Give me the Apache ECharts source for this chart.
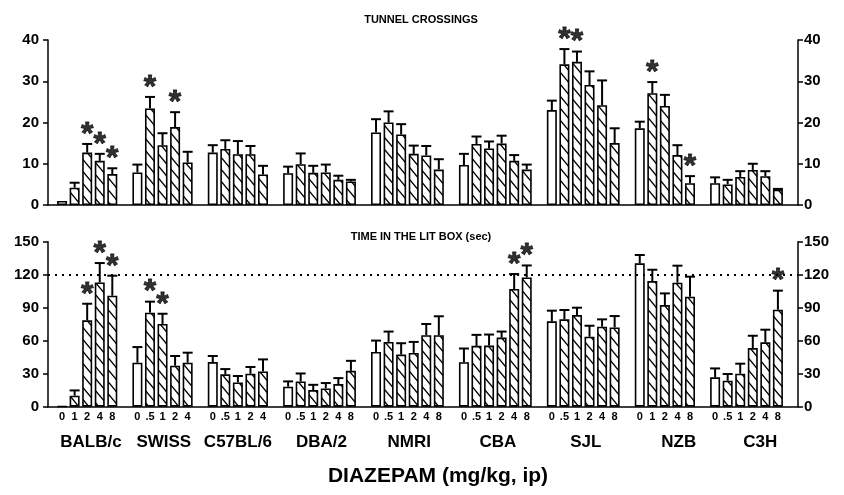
<!DOCTYPE html>
<html><head><meta charset="utf-8">
<script src="https://cdn.jsdelivr.net/npm/echarts@6/dist/echarts.min.js"></script>
<style>html,body{margin:0;padding:0;background:#fff}#c{width:844px;height:495px}</style>
</head><body><div id="c"></div>
<script>
// ---------------- DATA ----------------
const strains = ['BALB/c','SWISS','C57BL/6','DBA/2','NMRI','CBA','SJL','NZB','C3H'];
const doses = [
  ['0','1','2','4','8'],
  ['0','.5','1','2','4'],
  ['0','.5','1','2','4'],
  ['0','.5','1','2','4','8'],
  ['0','.5','1','2','4','8'],
  ['0','.5','1','2','4','8'],
  ['0','.5','1','2','4','8'],
  ['0','1','2','4','8'],
  ['0','.5','1','2','4','8']
];
// Tunnel crossings: mean, SEM, significance (1 = *)
const tunnelMean = [
  [1.0,4.2,12.7,10.7,7.5],
  [7.9,23.4,14.5,18.9,10.3],
  [12.7,13.6,12.3,12.3,7.4],
  [7.7,9.9,7.8,7.9,6.1,5.7],
  [17.6,20.0,17.1,12.4,12.0,8.6],
  [9.7,14.8,13.7,14.9,10.7,8.6],
  [23.0,34.1,34.7,29.1,24.2,15.0],
  [18.6,27.1,24.0,12.1,5.3],
  [5.3,5.0,6.8,8.5,7.0,3.7]
];
const tunnelSem = [
  [0,1.2,2.1,1.7,1.4],
  [1.9,2.8,2.9,3.6,2.6],
  [1.8,2.1,3.2,2.0,2.1],
  [1.6,2.6,1.7,1.9,1.0,0.4],
  [3.2,2.7,2.5,2.0,2.3,2.5],
  [2.7,1.8,1.7,1.9,1.4,1.2],
  [2.3,3.7,2.5,3.3,6.0,3.6],
  [1.6,2.7,2.7,2.4,1.7],
  [1.4,1.1,1.4,1.5,1.2,0.2]
];
const tunnelSig = [
  [0,0,1,1,1],[0,1,0,1,0],[0,0,0,0,0],[0,0,0,0,0,0],[0,0,0,0,0,0],
  [0,0,0,0,0,0],[0,1,1,0,0,0],[0,1,0,0,1],[0,0,0,0,0,0]
];
// Time in the lit box (sec)
const litMean = [
  [0.5,10.0,78.5,113.0,100.9],
  [40.0,85.5,75.2,37.3,40.0],
  [40.6,29.4,22.1,30.0,32.1],
  [18.2,23.0,15.1,16.6,20.6,32.6],
  [49.8,58.9,47.4,48.9,65.0,65.0],
  [40.5,55.3,55.6,62.8,107.0,117.5],
  [77.6,79.4,83.3,63.6,72.7,72.1],
  [130.3,114.2,92.4,112.7,100.0],
  [26.7,23.6,30.0,53.3,58.5,88.2]
];
const litSem = [
  [0,4.8,15.1,17.6,18.2],
  [14.2,10.0,9.3,8.8,9.1],
  [5.5,4.8,5.8,6.1,10.9],
  [4.8,7.2,4.8,4.9,5.4,9.1],
  [10.3,9.4,10.3,10.0,10.2,17.2],
  [12.4,10.0,10.0,5.5,13.6,10.9],
  [9.7,8.5,6.7,10.0,6.7,10.3],
  [7.6,10.3,10.6,15.5,18.2],
  [8.1,6.1,9.1,11.2,11.5,17.3]
];
const litSig = [
  [0,0,1,1,1],[0,1,1,0,0],[0,0,0,0,0],[0,0,0,0,0,0],[0,0,0,0,0,0],
  [0,0,0,0,1,1],[0,0,0,0,0,0],[0,0,0,0,0],[0,0,0,0,0,1]
];
const tunnelTicks = [0,10,20,30,40];
const litTicks = [0,30,60,90,120,150];
const litReference = 120;
const panelTitles = ['TUNNEL CROSSINGS','TIME IN THE LIT BOX (sec)'];
const xTitle = 'DIAZEPAM (mg/kg, ip)';

// ---------------- LAYOUT ----------------
const FONT = '"Liberation Sans", Arial, Helvetica, sans-serif';
const strainShift = [0.3,0.1,0,0.15,0.15,0.2,0.2,1.1,1.1];
const pos = []; let slot = 0;
doses.forEach(d => { const a = []; d.forEach(() => { a.push(slot); slot++; }); pos.push(a); slot++; });
const XMIN = -1.12, XMAX = 58.6;

function hatch() {
  const c = document.createElement('canvas'); c.width = 10; c.height = 12;
  const g = c.getContext('2d');
  g.fillStyle = '#fff'; g.fillRect(0,0,10,12);
  g.strokeStyle = '#000'; g.lineWidth = 1.4; g.lineCap = 'square';
  g.beginPath();
  g.moveTo(0,0); g.lineTo(10,12);
  g.moveTo(-10,0); g.lineTo(0,12);
  g.moveTo(10,0); g.lineTo(20,12);
  g.stroke();
  return c;
}
const hatchFill = { image: hatch(), repeat: 'repeat' };

function build(means, sems, sigs) {
  const bars = [], errs = [], stars = [];
  means.forEach((arr, g) => arr.forEach((m, j) => {
    const x = pos[g][j];
    bars.push({ value: [x, m], itemStyle: { color: j === 0 ? '#fff' : hatchFill } });
    if (sems[g][j] > 0) errs.push([x, m, m + sems[g][j]]);
    if (sigs[g][j]) stars.push([x, m + sems[g][j]]);
  }));
  return { bars, errs, stars };
}
const topPanel = build(tunnelMean, tunnelSem, tunnelSig);
const botPanel = build(litMean, litSem, litSig);

const doseVals = [], doseMap = {};
doses.forEach((d, g) => d.forEach((t, j) => { doseVals.push(pos[g][j]); doseMap[pos[g][j]] = t; }));
const strainVals = [], strainMap = {};
strains.forEach((s, g) => {
  const c = (pos[g][0] + pos[g][pos[g].length - 1]) / 2 + strainShift[g];
  strainVals.push(c); strainMap[c.toFixed(3)] = s;
});

function errRender(params, api) {
  const p0 = api.coord([api.value(0), api.value(1)]);
  const p1 = api.coord([api.value(0), api.value(2)]);
  const st = { stroke: '#000', lineWidth: 2 };
  return { type: 'group', children: [
    { type: 'line', shape: { x1: p0[0], y1: p0[1], x2: p1[0], y2: p1[1] }, style: st },
    { type: 'line', shape: { x1: p1[0] - 5, y1: p1[1], x2: p1[0] + 5, y2: p1[1] }, style: st }
  ]};
}

const yCommon = (ticks, idx, side) => ({
  type: 'value', gridIndex: idx, position: side, min: ticks[0], max: ticks[ticks.length - 1],
  interval: ticks[1] - ticks[0],
  axisLine: { show: true, onZero: false, lineStyle: { color: '#000', width: 1.5 } },
  axisTick: { show: true, inside: false, length: 5, lineStyle: { color: '#000', width: 1.5 } },
  splitLine: { show: false },
  axisLabel: { color: '#000', fontFamily: FONT, fontWeight: 'bold', fontSize: 15, margin: side === 'left' ? 9 : 6 }
});

const starLabel = { show: true, formatter: '*', position: 'inside', offset: [0, -9], color: '#000',
  fontFamily: FONT, fontWeight: 'bold', fontSize: 32, textBorderColor: '#000', textBorderWidth: 0.8 };

const option = {
  animation: false,
  backgroundColor: '#fff',
  grid: [
    { left: 48, right: 46, top: 40, height: 165 },
    { left: 48, right: 46, top: 241.7, height: 165 }
  ],
  title: [
    { text: panelTitles[0], left: 416, top: 9, textAlign: 'center',
      textStyle: { fontFamily: FONT, fontWeight: 'bold', fontSize: 11, color: '#000' } },
    { text: panelTitles[1], left: 416, top: 226, textAlign: 'center',
      textStyle: { fontFamily: FONT, fontWeight: 'bold', fontSize: 11, color: '#000' } },
    { text: xTitle, left: 433, top: 461, textAlign: 'center',
      textStyle: { fontFamily: FONT, fontWeight: 'bold', fontSize: 21, color: '#000' } }
  ],
  xAxis: [
    { type: 'value', gridIndex: 0, min: XMIN, max: XMAX,
      axisLine: { show: true, onZero: false, lineStyle: { color: '#000', width: 1.5 } },
      axisTick: { show: false }, axisLabel: { show: false }, splitLine: { show: false } },
    { type: 'value', gridIndex: 1, min: XMIN, max: XMAX,
      axisLine: { show: true, onZero: false, lineStyle: { color: '#000', width: 1.5 } },
      axisTick: { show: false }, splitLine: { show: false },
      axisLabel: { show: true, customValues: doseVals, margin: 5, color: '#000', fontFamily: FONT,
        fontWeight: 'bold', fontSize: 11, formatter: v => doseMap[v] !== undefined ? doseMap[v] : '' } },
    { type: 'value', gridIndex: 1, min: XMIN, max: XMAX, position: 'bottom',
      axisLine: { show: false }, axisTick: { show: false }, splitLine: { show: false },
      axisLabel: { show: true, customValues: strainVals, margin: 27, color: '#000', fontFamily: FONT,
        fontWeight: 'bold', fontSize: 17,
        formatter: v => { const k = Number(v).toFixed(3); return strainMap[k] || ''; } } }
  ],
  yAxis: [
    yCommon(tunnelTicks, 0, 'left'), yCommon(tunnelTicks, 0, 'right'),
    yCommon(litTicks, 1, 'left'), yCommon(litTicks, 1, 'right')
  ],
  series: [
    { type: 'line', xAxisIndex: 1, yAxisIndex: 2, data: [], z: 1,
      markLine: { silent: true, symbol: 'none', label: { show: false },
        lineStyle: { color: '#000', type: [2, 5], width: 2 }, data: [{ yAxis: litReference }] } },
    { type: 'bar', xAxisIndex: 0, yAxisIndex: 0, barWidth: 10, data: topPanel.bars, z: 2,
      itemStyle: { borderColor: '#000', borderWidth: 1.6 } },
    { type: 'custom', xAxisIndex: 0, yAxisIndex: 0, data: topPanel.errs, renderItem: errRender, z: 3 },
    { type: 'scatter', xAxisIndex: 0, yAxisIndex: 0, data: topPanel.stars, symbolSize: 0, z: 4,
      label: starLabel },
    { type: 'bar', xAxisIndex: 1, yAxisIndex: 2, barWidth: 10, data: botPanel.bars, z: 2,
      itemStyle: { borderColor: '#000', borderWidth: 1.6 } },
    { type: 'custom', xAxisIndex: 1, yAxisIndex: 2, data: botPanel.errs, renderItem: errRender, z: 3 },
    { type: 'scatter', xAxisIndex: 1, yAxisIndex: 2, data: botPanel.stars, symbolSize: 0, z: 4,
      label: starLabel }
  ]
};
const chart = echarts.init(document.getElementById('c'), null, { renderer: 'canvas' });
chart.setOption(option);
</script>
</body></html>
